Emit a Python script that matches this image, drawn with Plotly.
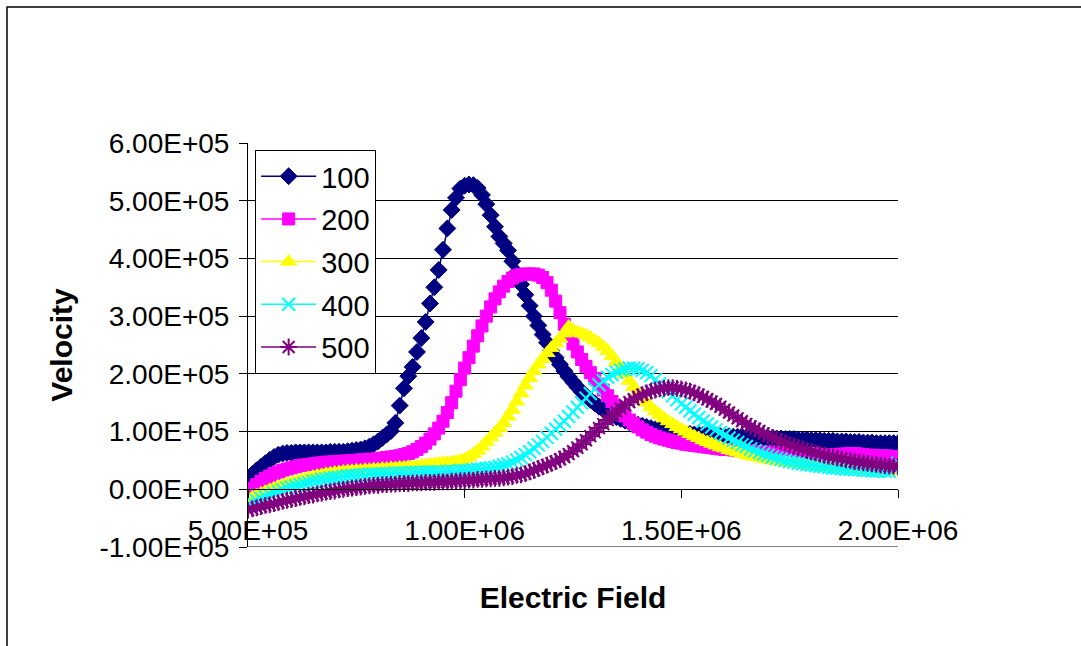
import plotly.graph_objects as go

field = list(range(500000, 2000001, 10000))

v100 = [19000, 26000, 33000, 39000, 45000, 51000, 56000, 60000, 62000, 63000,
        63000, 64000, 64000, 64000, 64000, 64000, 64000, 64000, 64000, 65000,
        65000, 65000, 65000, 66000, 67000, 68000, 69000, 71000, 74000, 78000,
        83000, 89000, 95000, 101000, 115000, 145000, 175000, 196000, 212000, 238000,
        262000, 290000, 322000, 350000, 380000, 415000, 452000, 484000, 505000, 521000,
        526000, 528000, 527000, 522000, 510000, 494000, 475000, 455000, 438000, 426000,
        414000, 395000, 375000, 355000, 337000, 318000, 300000, 284000, 268000, 254000,
        240000, 228000, 216000, 205000, 195000, 186000, 177000, 169000, 162000, 155000,
        149000, 143000, 138000, 133000, 129000, 125000, 122000, 119000, 116000, 114000,
        112000, 110000, 108000, 106000, 104000, 103000, 101000, 100000, 99000, 98000,
        97000, 96000, 96000, 95000, 95000, 94000, 94000, 93000, 93000, 92000,
        92000, 92000, 91000, 91000, 91000, 90000, 90000, 90000, 89000, 89000,
        89000, 88000, 88000, 88000, 87000, 87000, 87000, 86000, 86000, 86000,
        85000, 85000, 85000, 84000, 84000, 84000, 83000, 83000, 83000, 82000,
        82000, 82000, 81000, 81000, 81000, 80000, 80000, 80000, 80000, 80000, 80000]

v200 = [-5000, 2000, 8000, 14000, 19000, 23000, 27000, 30000, 33000, 35000,
        37000, 39000, 41000, 42000, 43000, 44000, 45000, 46000, 47000, 47000,
        48000, 48000, 49000, 49000, 50000, 50000, 51000, 51000, 52000, 52000,
        53000, 54000, 55000, 56000, 57000, 58000, 60000, 62000, 65000, 69000,
        74000, 80000, 87000, 96000, 106000, 118000, 133000, 150000, 170000, 190000,
        210000, 228000, 248000, 266000, 283000, 300000, 316000, 330000, 342000, 352000,
        360000, 366000, 370000, 372000, 373000, 373000, 373000, 371000, 367000, 358000,
        345000, 326000, 306000, 286000, 268000, 252000, 238000, 225000, 213000, 202000,
        192000, 182000, 172000, 162000, 152000, 143000, 135000, 127000, 120000, 114000,
        108000, 103000, 99000, 95000, 92000, 89000, 87000, 85000, 83000, 81000,
        80000, 78000, 77000, 76000, 75000, 74000, 73000, 72000, 71000, 70000,
        69000, 69000, 68000, 67000, 67000, 66000, 66000, 65000, 65000, 64000,
        64000, 64000, 63000, 63000, 63000, 62000, 62000, 62000, 61000, 61000,
        61000, 61000, 60000, 60000, 60000, 60000, 60000, 61000, 61000, 62000,
        62000, 61000, 60000, 59000, 59000, 58000, 58000, 58000, 57000, 57000, 57000]

v300 = [-18000, -14000, -10000, -7000, -4000, -1000, 2000, 5000, 7000, 10000,
        12000, 14000, 16000, 18000, 20000, 22000, 24000, 25000, 27000, 28000,
        29000, 30000, 31000, 32000, 32000, 33000, 33000, 34000, 34000, 35000,
        35000, 36000, 36000, 37000, 37000, 38000, 38000, 39000, 39000, 40000,
        41000, 42000, 43000, 44000, 45000, 46000, 46000, 47000, 48000, 50000,
        52000, 56000, 61000, 67000, 74000, 82000, 90000, 98000, 106000, 115000,
        126000, 138000, 152000, 166000, 180000, 193000, 205000, 216000, 226000, 236000,
        245000, 253000, 261000, 270000, 282000, 276000, 272000, 270000, 267000, 263000,
        258000, 253000, 247000, 240000, 231000, 221000, 210000, 199000, 188000, 177000,
        167000, 158000, 150000, 142000, 135000, 129000, 123000, 118000, 113000, 108000,
        104000, 100000, 96000, 92000, 89000, 85000, 82000, 79000, 76000, 73000,
        71000, 68000, 66000, 64000, 62000, 60000, 58000, 56000, 55000, 53000,
        52000, 50000, 49000, 48000, 47000, 46000, 45000, 44000, 43000, 42000,
        41000, 40000, 40000, 39000, 38000, 38000, 37000, 37000, 36000, 36000,
        35000, 35000, 34000, 34000, 33000, 33000, 33000, 32000, 32000, 32000, 31000]

v400 = [-27000, -23000, -20000, -16000, -13000, -10000, -7000, -4000, -1000, 2000,
        4000, 6000, 8000, 10000, 12000, 14000, 15000, 17000, 18000, 19000,
        20000, 21000, 22000, 23000, 24000, 24000, 25000, 25000, 26000, 26000,
        26000, 27000, 27000, 27000, 28000, 28000, 28000, 28000, 29000, 29000,
        29000, 29000, 30000, 30000, 30000, 30000, 31000, 31000, 31000, 32000,
        32000, 33000, 34000, 35000, 35000, 36000, 37000, 38000, 40000, 42000,
        44000, 47000, 51000, 55000, 60000, 65000, 71000, 77000, 83000, 90000,
        97000, 104000, 111000, 118000, 126000, 134000, 142000, 150000, 158000, 166000,
        174000, 181000, 188000, 194000, 199000, 203000, 206000, 208000, 210000, 210000,
        209000, 206000, 202000, 197000, 190000, 183000, 176000, 169000, 162000, 155000,
        148000, 142000, 136000, 130000, 124000, 118000, 113000, 108000, 103000, 98000,
        94000, 89000, 85000, 81000, 77000, 74000, 70000, 67000, 64000, 61000,
        59000, 56000, 54000, 52000, 50000, 48000, 47000, 45000, 44000, 43000,
        42000, 41000, 40000, 39000, 38000, 37000, 37000, 36000, 35000, 35000,
        34000, 34000, 33000, 33000, 32000, 32000, 32000, 31000, 31000, 35000, 45000]

v500 = [-36000, -34000, -32000, -30000, -28000, -27000, -25000, -23000, -21000, -19000,
        -18000, -16000, -14000, -13000, -11000, -10000, -8000, -7000, -5000, -4000,
        -3000, -1000, 0, 1000, 2000, 3000, 4000, 5000, 6000, 7000,
        7000, 8000, 8000, 9000, 9000, 10000, 10000, 10000, 11000, 11000,
        11000, 12000, 12000, 12000, 13000, 13000, 13000, 14000, 14000, 15000,
        15000, 16000, 16000, 17000, 17000, 18000, 18000, 19000, 19000, 20000,
        21000, 22000, 24000, 25000, 27000, 30000, 33000, 36000, 39000, 42000,
        45000, 48000, 52000, 56000, 61000, 66000, 72000, 78000, 85000, 92000,
        99000, 106000, 113000, 120000, 127000, 134000, 140000, 146000, 151000, 156000,
        160000, 164000, 167000, 170000, 172000, 174000, 175000, 176000, 176000, 175000,
        174000, 172000, 170000, 167000, 164000, 160000, 156000, 152000, 148000, 143000,
        138000, 133000, 128000, 123000, 118000, 113000, 109000, 105000, 101000, 97000,
        93000, 90000, 86000, 83000, 80000, 77000, 75000, 72000, 70000, 67000,
        65000, 63000, 61000, 59000, 57000, 56000, 54000, 53000, 51000, 50000,
        48000, 47000, 46000, 45000, 44000, 43000, 42000, 41000, 40000, 40000, 39000]

series_names = ["100", "200", "300", "400", "500"]
series_values = [v100, v200, v300, v400, v500]

y_tickvals = [-100000, 0, 100000, 200000, 300000, 400000, 500000, 600000]
y_ticktext = ["-1.00E+05", "0.00E+00", "1.00E+05", "2.00E+05", "3.00E+05",
              "4.00E+05", "5.00E+05", "6.00E+05"]
x_tickvals = [500000, 1000000, 1500000, 2000000]
x_ticktext = ["5.00E+05", "1.00E+06", "1.50E+06", "2.00E+06"]

styles = [
    dict(color="#000080", symbol="diamond", size=13, lw=1),
    dict(color="#FF00FF", symbol="square", size=12, lw=1),
    dict(color="#FFFF00", symbol="triangle-up", size=14, lw=1),
    dict(color="#00FFFF", symbol="x-thin-open", size=13, lw=2),
    dict(color="#800080", symbol="asterisk-open", size=14, lw=2),
]

FONT = "Arial, Liberation Sans, sans-serif"

fig = go.Figure()
for name, vals, st in zip(series_names, series_values, styles):
    fig.add_trace(go.Scatter(
        x=field, y=vals, name=name, mode="lines+markers",
        legendgroup=name,
        line=dict(color=st["color"], width=1.5),
        marker=dict(symbol=st["symbol"], size=st["size"], color=st["color"],
                    line=dict(color=st["color"], width=st["lw"])),
    ))

fig.update_layout(
    width=1081, height=646,
    margin=dict(l=248, r=183, t=143, b=99),
    paper_bgcolor="white", plot_bgcolor="white",
    font=dict(family=FONT, size=28, color="black"),
    showlegend=True,
    legend=dict(x=0.011, y=0.983, xanchor="left", yanchor="top",
                bgcolor="white", bordercolor="black", borderwidth=1,
                font=dict(size=29), tracegroupgap=2, itemwidth=55),
    xaxis=dict(range=[500000, 2000000], tickvals=x_tickvals, ticktext=x_ticktext,
               showgrid=False, zeroline=False, showline=True, linecolor="black",
               linewidth=1, ticks="outside", ticklen=8, tickcolor="black",
               anchor="free", position=1/7, ticklabelstandoff=8,
               title=dict(text="<b>Electric Field</b>", font=dict(size=30), standoff=42)),
    yaxis=dict(range=[-100000, 600000], tickvals=y_tickvals, ticktext=y_ticktext,
               showgrid=True, gridcolor="black", gridwidth=1, zeroline=False,
               showline=True, linecolor="black", linewidth=1,
               ticks="outside", ticklen=8, tickcolor="black", ticklabelstandoff=4,
               title=dict(text="<b>Velocity</b>", font=dict(size=30), standoff=17)),
    shapes=[
        dict(type="rect", xref="paper", yref="paper",
             x0=(7 - 248) / 650, x1=1.6, y0=-0.6, y1=(547 - 7) / 404,
             line=dict(color="black", width=1.5), fillcolor="rgba(0,0,0,0)",
             layer="below"),
        dict(type="line", xref="paper", yref="y", x0=0, x1=1,
             y0=y_tickvals[0], y1=y_tickvals[0],
             line=dict(color="black", width=1), layer="below"),
    ],
)

fig.write_html("out.html")
